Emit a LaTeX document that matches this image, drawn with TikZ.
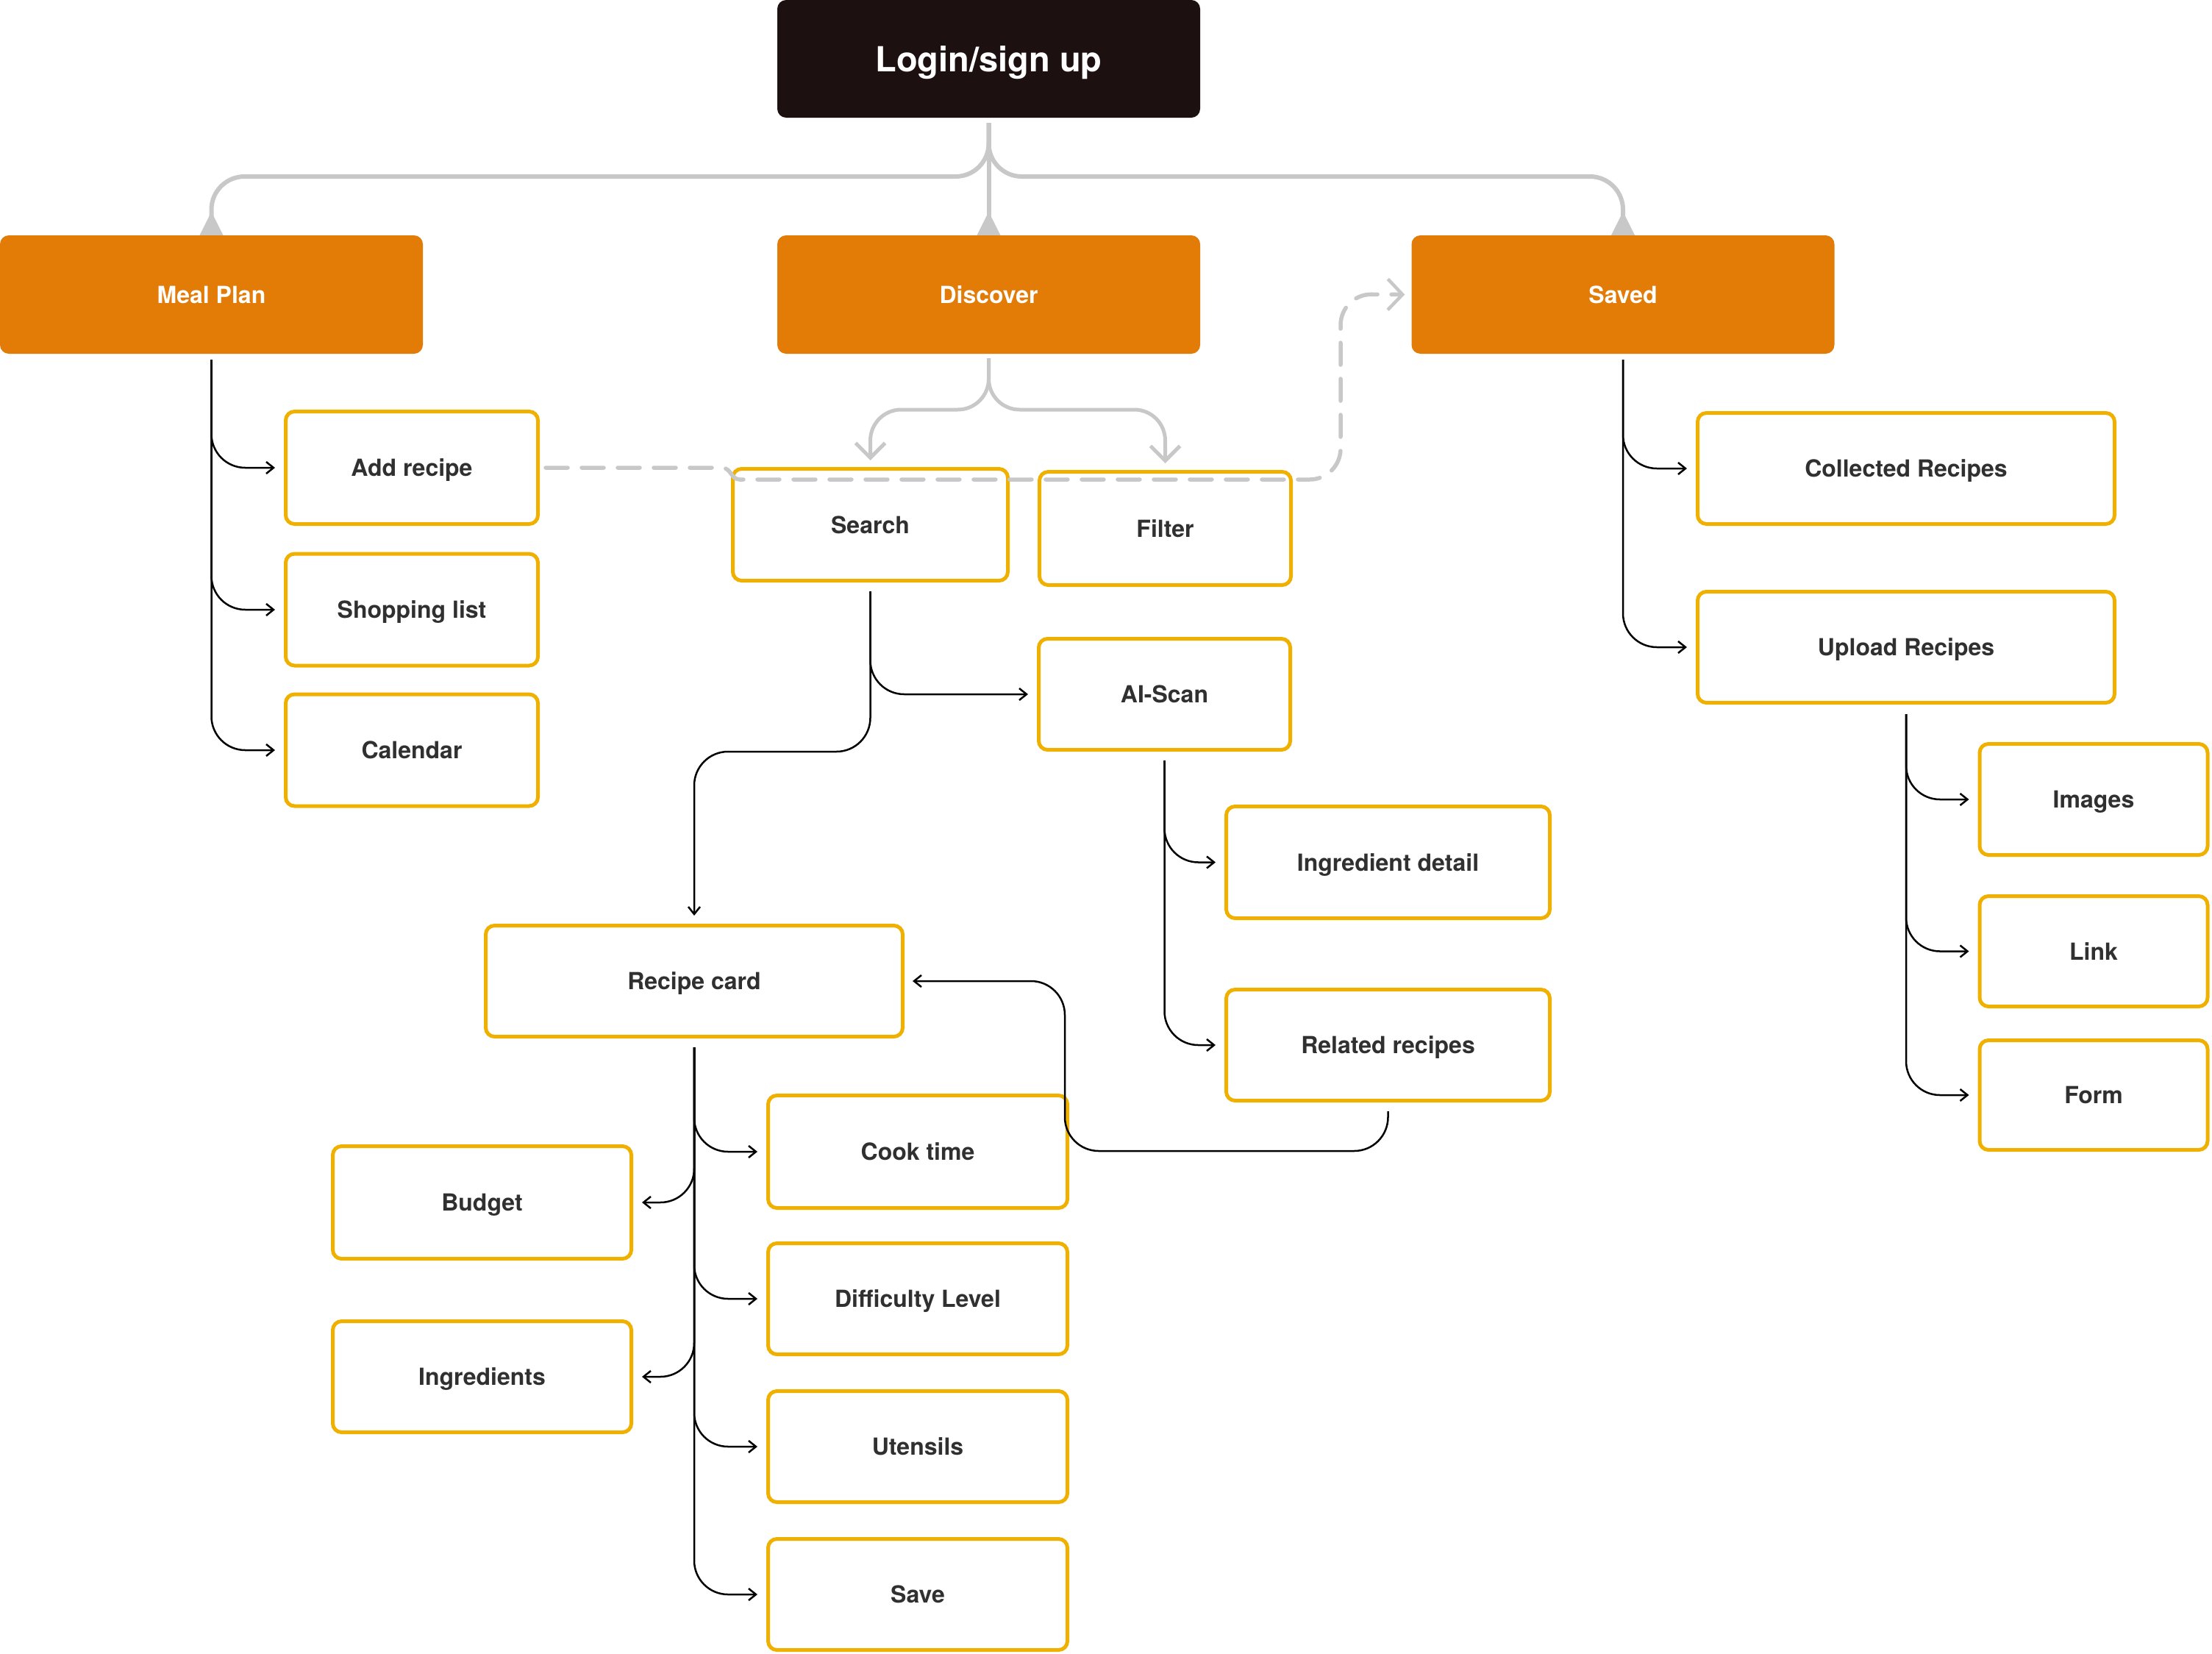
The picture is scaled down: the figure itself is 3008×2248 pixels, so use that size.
\documentclass[tikz,border=0pt]{standalone}
\usepackage{fontspec}
\setmainfont{TeX Gyre Heros}
\usetikzlibrary{arrows.meta}
\definecolor{darkbox}{HTML}{1C1010}
\definecolor{orng}{HTML}{E37B07}
\definecolor{ylw}{HTML}{EFB000}
\definecolor{txt}{HTML}{303030}
\definecolor{gry}{HTML}{C8C8C8}
\begin{document}
\begin{tikzpicture}[x=1pt,y=-1pt,
  ybox/.style={draw=ylw,line width=5pt,rounded corners=12pt,fill=white,text=txt,
    font=\fontsize{32}{38}\selectfont\bfseries,inner sep=0pt,text height=23pt,text depth=0pt},
  obox/.style={fill=orng,rounded corners=12pt,text=white,
    font=\fontsize{32}{38}\selectfont\bfseries,inner sep=0pt,text height=23pt,text depth=0pt,
    minimum width=575pt,minimum height=161pt},
  dbox/.style={fill=darkbox,rounded corners=12pt,text=white,
    font=\fontsize{47}{56}\selectfont\bfseries,inner sep=0pt,text height=34pt,text depth=0pt,
    minimum width=575pt,minimum height=160pt},
  conn/.style={draw=black,line width=2.5pt,rounded corners=46pt,
    -{Straight Barb[length=10pt,width=16pt,line width=2.5pt]}},
  tree/.style={draw=gry,line width=6pt,rounded corners=45pt},
  garrow/.style={draw=gry,line width=5pt,rounded corners=42pt,
    -{Straight Barb[length=20pt,width=40pt,line width=5pt]}},
  gdash/.style={draw=gry,line width=5.5pt,line cap=round,dash pattern=on 30pt off 19pt,
    -{Straight Barb[length=20pt,width=42pt,line width=4.5pt]}}
]
\useasboundingbox (0,0) rectangle (3008,2248);

% top level
\node[dbox] (login) at (1344.5,80) {Login/sign up};
\node[obox] (meal) at (287.5,400.5) {Meal Plan};
\node[obox] (disc) at (1344.5,400.5) {Discover};
\node[obox] (saved) at (2207,400.5) {Saved};

% meal plan children
\node[ybox,minimum width=343pt,minimum height=153pt] (add) at (560,636) {Add recipe};
\node[ybox,minimum width=343pt,minimum height=152pt] (shop) at (560,829) {Shopping list};
\node[ybox,minimum width=343pt,minimum height=152pt] (cal) at (560,1020) {Calendar};

% discover children
\node[ybox,minimum width=374pt,minimum height=152pt] (search) at (1183.5,713.5) {Search};
\node[ybox,minimum width=342pt,minimum height=154pt] (filter) at (1584.5,718.5) {Filter};
\node[ybox,minimum width=342pt,minimum height=151pt] (aiscan) at (1583.5,944) {AI-Scan};
\node[ybox,minimum width=440pt,minimum height=152pt] (ingd) at (1887.5,1172.5) {Ingredient detail};
\node[ybox,minimum width=440pt,minimum height=151pt] (related) at (1887.5,1421) {Related recipes};
\node[ybox,minimum width=567pt,minimum height=151pt] (recipe) at (944,1334) {Recipe card};
\node[ybox,minimum width=407pt,minimum height=153pt] (cook) at (1248,1566) {Cook time};
\node[ybox,minimum width=407pt,minimum height=151pt] (diff) at (1248,1766) {Difficulty Level};
\node[ybox,minimum width=407pt,minimum height=151pt] (utens) at (1248,1967) {Utensils};
\node[ybox,minimum width=407pt,minimum height=151pt] (save) at (1248,2168) {Save};
\node[ybox,minimum width=406pt,minimum height=153pt] (budget) at (655.5,1635) {Budget};
\node[ybox,minimum width=406pt,minimum height=151pt] (ingr) at (655.5,1872) {Ingredients};

% saved children
\node[ybox,minimum width=567pt,minimum height=151pt] (coll) at (2592,637) {Collected Recipes};
\node[ybox,minimum width=567pt,minimum height=151pt] (upload) at (2592,880) {Upload Recipes};
\node[ybox,minimum width=310pt,minimum height=151pt] (images) at (2847,1087) {Images};
\node[ybox,minimum width=310pt,minimum height=150pt] (link) at (2847,1293.5) {Link};
\node[ybox,minimum width=310pt,minimum height=149pt] (form) at (2847,1489) {Form};

% gray tree from login
\coordinate (ty) at (0,240);
\draw[tree] ([yshift=-7pt]login.south) -- (login.south |- ty) -| ([yshift=22pt]meal.north);
\draw[tree] ([yshift=-7pt]login.south) -- (login.south |- ty) -| ([yshift=22pt]saved.north);
\draw[tree] ([yshift=-7pt]login.south) -- ([yshift=22pt]disc.north);
\fill[gry] ([xshift=-16pt]meal.north) -- ([yshift=32pt]meal.north) -- ([xshift=16pt]meal.north) -- cycle;
\fill[gry] ([xshift=-16pt]disc.north) -- ([yshift=32pt]disc.north) -- ([xshift=16pt]disc.north) -- cycle;
\fill[gry] ([xshift=-16pt]saved.north) -- ([yshift=32pt]saved.north) -- ([xshift=16pt]saved.north) -- cycle;

% discover to search / filter
\coordinate (dsy) at (1183.5,557);
\coordinate (dfy) at (1584.5,557);
\draw[garrow] ([yshift=-6pt]disc.south) |- (dsy) -- ([yshift=9pt]search.north);
\draw[garrow] ([yshift=-6pt]disc.south) |- (dfy) -- ([yshift=9pt]filter.north);

% meal plan branches
\draw[conn] ([yshift=-8pt]meal.south) |- ([xshift=-12pt]add.west);
\draw[conn] ([yshift=-8pt]meal.south) |- ([xshift=-12pt]shop.west);
\draw[conn] ([yshift=-8pt]meal.south) |- ([xshift=-12pt]cal.west);

% saved branches
\draw[conn] ([yshift=-8pt]saved.south) |- ([xshift=-12pt]coll.west);
\draw[conn] ([yshift=-8pt]saved.south) |- ([xshift=-12pt]upload.west);
\draw[conn] ([yshift=-13pt]upload.south) |- ([xshift=-12pt]images.west);
\draw[conn] ([yshift=-13pt]upload.south) |- ([xshift=-12pt]link.west);
\draw[conn] ([yshift=-13pt]upload.south) |- ([xshift=-12pt]form.west);

% search branches
\coordinate (sr1) at (944,1022);
\draw[conn] ([yshift=-12pt]search.south) |- ([xshift=-12pt]aiscan.west);
\draw[conn] ([yshift=-12pt]search.south) |- (sr1) -- ([yshift=11pt]recipe.north);

% ai-scan branches
\draw[conn] ([yshift=-12pt]aiscan.south) |- ([xshift=-12pt]ingd.west);
\draw[conn] ([yshift=-12pt]aiscan.south) |- ([xshift=-12pt]related.west);

% related to recipe card
\coordinate (rr1) at (1448,1565);
\draw[conn] ([yshift=-12pt]related.south) |- (rr1) |- ([xshift=11pt]recipe.east);

% recipe card branches
\draw[conn] ([yshift=-12pt]recipe.south) |- ([xshift=-12pt]cook.west);
\draw[conn] ([yshift=-12pt]recipe.south) |- ([xshift=12pt]budget.east);
\draw[conn] ([yshift=-12pt]recipe.south) |- ([xshift=-12pt]diff.west);
\draw[conn] ([yshift=-12pt]recipe.south) |- ([xshift=12pt]ingr.east);
\draw[conn] ([yshift=-12pt]recipe.south) |- ([xshift=-12pt]utens.west);
\draw[conn] ([yshift=-12pt]recipe.south) |- ([xshift=-12pt]save.west);

% dashed link add recipe -> saved
\coordinate (dj1) at (982,636);
\coordinate (dj2) at (1006,652);
\coordinate (dc1) at (1823,652);
\coordinate (dc2) at (1823,400);
\draw[gdash] ([xshift=8pt]add.east) -- (dj1) .. controls (994,636) and (994,652) .. (dj2)
  [rounded corners=42pt] -- (dc1) -- (dc2) -- ([xshift=-9pt]saved.west);
\end{tikzpicture}
\end{document}
